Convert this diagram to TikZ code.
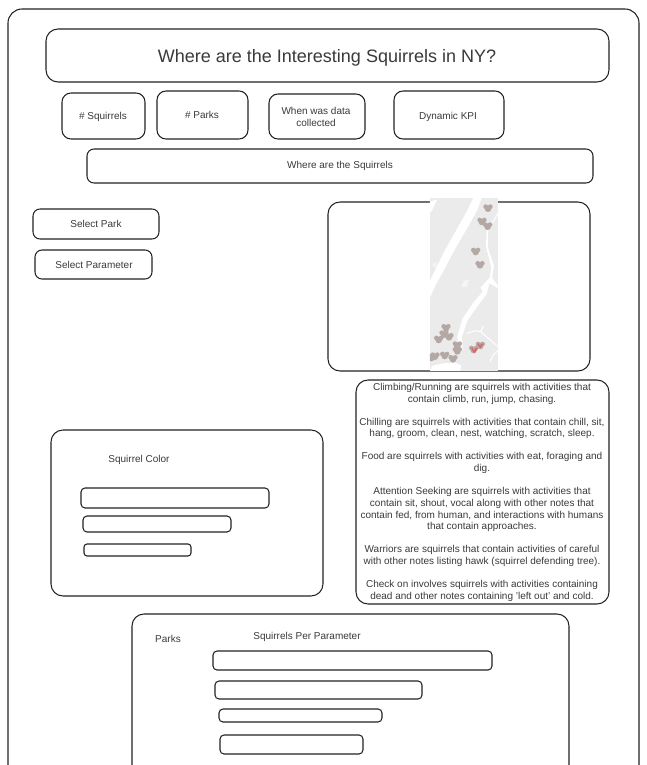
\documentclass[tikz,border=0pt]{standalone}
\usepackage{fontspec}
\setmainfont{Liberation Sans}
\definecolor{ink}{HTML}{222222}
\definecolor{txt}{HTML}{3A3A3A}
\definecolor{land}{HTML}{EBEBEB}
\definecolor{squ}{HTML}{B4A8A4}
\definecolor{squred}{HTML}{E0615F}
\newcommand{\squ}[3][squ]{%
  \fill[#1] (#2-7,#3-5) circle[radius=7] (#2+7,#3-5) circle[radius=7] (#2,#3+1) circle[radius=10];}
\tikzset{
  x=1pt,y=-1pt,
  sk/.style={draw=ink,line width=1.05pt,rounded corners=#1,fill=none},
  sk/.default=9pt,
  lab/.style={text=txt,font=\fontsize{10}{12}\selectfont,align=center,inner sep=0pt,yshift=-1pt},
  river/.style={fill=white,draw=none},
  brook/.style={draw=white,line width=1pt},
}
\begin{document}
\begin{tikzpicture}
\useasboundingbox (0,0) rectangle (646,765);
\clip (0,0) rectangle (646,765);
\fill[white] (0,0) rectangle (646,765);
\draw[sk=14pt] (8,9) rectangle (639,790);
\draw[sk=12pt] (46,29) rectangle (609,82);
\node[lab,font=\fontsize{18}{22}\selectfont] (title) at (327,57) {Where are the Interesting Squirrels in NY?};
\draw[sk] (62,93) rectangle (145,139);
\node[lab] (nsq) at (103,116) {\# Squirrels};
\draw[sk] (157,91) rectangle (248,139);
\node[lab] (npk) at (202,114) {\# Parks};
\draw[sk] (269,94) rectangle (365,139);
\node[lab] (when) at (316,116) {When was data\\collected};
\draw[sk] (394,91) rectangle (504,139);
\node[lab] (kpi) at (448,116) {Dynamic KPI};
\draw[sk=7pt] (87,149) rectangle (593,183);
\node[lab] (where) at (340,165) {Where are the Squirrels};
\draw[sk=7pt] (33,209) rectangle (159,239);
\node[lab] (spark) at (96,223) {Select Park};
\draw[sk=7pt] (35,250) rectangle (152,279);
\node[lab] (spar) at (94,264) {Select Parameter};
\draw[sk=12pt] (328,202) rectangle (590,371);
% map
\begin{scope}[shift={(320,190)},x=0.3333pt,y=-0.3333pt]
\clip (330,24) rectangle (534,543);
\fill[land] (330,24) rectangle (534,543);
\fill[river] (460,24) -- (485,24) -- (472,60) -- (447,105) -- (421,150) -- (398,190) -- (372,240) -- (347,285) -- (330,322) -- (330,272) -- (348,235) -- (370,190) -- (398,140) -- (423,95) -- (443,60) -- cycle;
\fill[river] (330,35) -- (352,28) -- (336,62) -- (330,68) -- cycle;
\fill[river] (500,120) -- (505,120) -- (503,170) -- (522,228) -- (516,262) -- (534,288) -- (534,294) -- (508,280) -- (500,312) -- (470,352) -- (442,392) -- (426,440) -- (428,480) -- (417,480) -- (412,440) -- (428,385) -- (462,335) -- (488,305) -- (482,292) -- (510,262) -- (514,232) -- (498,170) -- cycle;
\fill[river] (330,543) -- (336,528) -- (370,520) -- (405,518) -- (424,526) -- (420,543) -- cycle;
\draw[brook] (534,70) -- (505,118);
\draw[brook] (440,430) -- (465,422) -- (482,425) -- (505,445) -- (534,470);
\draw[brook] (510,515) -- (520,495) -- (534,482);
\draw[brook] (482,425) -- (490,408);
\fill[white,opacity=.5] (432,272) -- (448,268) -- (440,292) -- (425,290) -- cycle;
\fill[white,opacity=.4] (345,225) circle[radius=8];
\squ{504}{55}
\squ{486}{95}
\squ{503}{109}
\squ{467}{185}
\squ{480}{225}
\squ{378}{414}
\squ{372}{433}
\squ{387}{441}
\squ{356}{449}
\squ{412}{466}
\squ{412}{483}
\squ{345}{499}
\squ{334}{503}
\squ{374}{497}
\squ{399}{507}
\squ{461}{479}
\squ{481}{467}
\fill[squred] (456,472) -- (462,482) -- (470,473) -- (473,476) -- (463,490) -- (454,476) -- cycle;
\fill[squred] (474,460) -- (480,468) -- (486,460) -- (489,463) -- (481,474) -- (472,463) -- cycle;
\end{scope}
% explanation
\draw[sk=12pt] (356,380) rectangle (609,604);
\node[lab,anchor=north,font=\fontsize{10}{11.75}\selectfont] (expl) at (482,382) {Climbing/Running are squirrels with activities that\\contain climb, run, jump, chasing.\\[11.2pt]
Chilling are squirrels with activities that contain chill, sit,\\hang, groom, clean, nest, watching, scratch, sleep.\\[11.2pt]
Food are squirrels with activities with eat, foraging and\\dig.\\[11.2pt]
Attention Seeking are squirrels with activities that\\contain sit, shout, vocal along with other notes that\\contain fed, from human, and interactions with humans\\that contain approaches.\\[11.2pt]
Warriors are squirrels that contain activities of careful\\with other notes listing hawk (squirrel defending tree).\\[11.2pt]
Check on involves squirrels with activities containing\\dead and other notes containing 'left out' and cold.};
% colour panel
\draw[sk=12pt] (51,430) rectangle (323,596);
\node[lab] (sc) at (139,459) {Squirrel Color};
\draw[sk=4pt] (81,488) rectangle (269,508);
\draw[sk=4pt] (83,516) rectangle (231,532);
\draw[sk=3pt] (84,544) rectangle (191,556);
% parks panel
\draw[sk=12pt] (132,614) rectangle (569,790);
\node[lab] (pk) at (168,638) {Parks};
\node[lab] (spp) at (307,636) {Squirrels Per Parameter};
\draw[sk=4pt] (213,651) rectangle (492,670);
\draw[sk=4pt] (215,681) rectangle (422,699);
\draw[sk=4pt] (219,709) rectangle (382,722);
\draw[sk=4pt] (220,735) rectangle (363,754);
\end{tikzpicture}
\end{document}
